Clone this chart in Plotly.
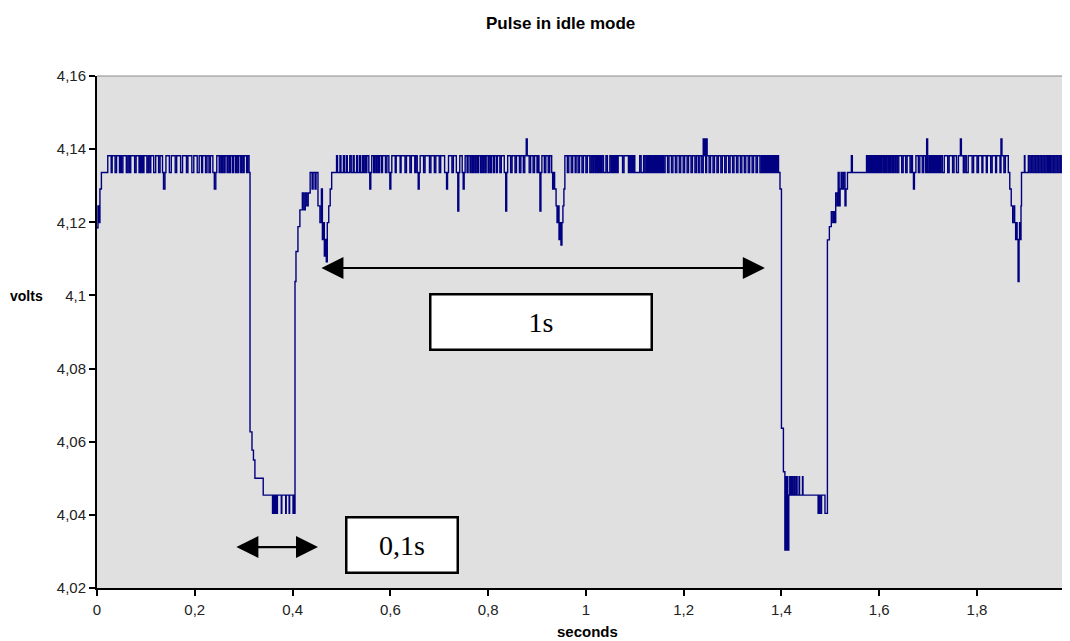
import plotly.graph_objects as go

# ---- signal levels (volts) ----
H = 4.1382   # upper idle level
M = 4.1336   # lower idle level
D = 4.1291   # shallow dip level

# ---- signal change points: time (s) and the value held from that time ----
t_start = [0.000, 0.002, 0.004, 0.006, 0.009]
v_start = [4.1185, 4.1245, 4.1199, 4.1291, M]

t_idle1 = [0.022, 0.029, 0.031, 0.037, 0.040, 0.046, 0.048, 0.050, 0.053, 0.060,
           0.063, 0.066, 0.069, 0.077, 0.080, 0.086, 0.088, 0.090, 0.092, 0.094,
           0.096, 0.102, 0.105, 0.108, 0.110, 0.116, 0.120, 0.126, 0.129, 0.134,
           0.136, 0.139, 0.141, 0.148, 0.152, 0.160, 0.163, 0.171, 0.175, 0.183,
           0.186, 0.194, 0.198, 0.205, 0.209, 0.214, 0.216, 0.222, 0.225, 0.229,
           0.232, 0.237, 0.240, 0.243, 0.245, 0.250, 0.252, 0.255, 0.257, 0.260,
           0.262, 0.266, 0.268, 0.271, 0.273, 0.277, 0.279, 0.283, 0.285, 0.288,
           0.290, 0.294, 0.296, 0.299, 0.301, 0.306, 0.308, 0.311]
v_idle1 = [H, M, H, M, H, M, H, M, H, M,
           H, M, H, M, H, M, H, M, H, M,
           H, M, H, M, H, M, H, M, H, M,
           D, M, H, M, H, M, H, M, H, M,
           H, M, H, M, H, M, H, M, H, M,
           H, M, D, M, H, M, H, M, H, M,
           H, M, H, M, H, M, H, M, H, M,
           H, M, H, M, H, M, H, M]

t_pulse1 = [0.313, 0.317, 0.320, 0.323, 0.340, 0.359, 0.361, 0.362, 0.364, 0.365,
            0.367, 0.368, 0.369, 0.377, 0.378, 0.386, 0.387, 0.393, 0.394, 0.401,
            0.402, 0.403]
v_pulse1 = [4.0627, 4.0577, 4.0550, 4.0500, 4.0454, 4.0404, 4.0454, 4.0404, 4.0454, 4.0404,
            4.0454, 4.0404, 4.0454, 4.0404, 4.0454, 4.0404, 4.0454, 4.0404, 4.0454, 4.0404,
            4.0454, 4.0404]

t_rec1 = [0.405, 0.407, 0.411, 0.415, 0.420, 0.423, 0.426, 0.429, 0.432, 0.436,
          0.440, 0.442, 0.446, 0.448, 0.452, 0.456, 0.459, 0.461, 0.463, 0.465,
          0.467, 0.469, 0.471, 0.474, 0.477, 0.480]
v_rec1 = [4.1038, 4.1120, 4.1188, 4.1234, 4.1280, 4.1234, 4.1280, 4.1245, 4.1280, M,
          4.1291, M, 4.1291, M, 4.1245, 4.1199, 4.1291, 4.1153, 4.1199, 4.1108,
          4.1153, 4.1092, 4.1199, 4.1245, 4.1291, M]

t_idle2a = [0.490, 0.492, 0.497, 0.499, 0.504, 0.506, 0.510, 0.512, 0.517, 0.520,
            0.524, 0.526, 0.531, 0.533, 0.537, 0.539, 0.543, 0.545, 0.548, 0.550,
            0.552, 0.556, 0.558, 0.560, 0.562, 0.566, 0.568, 0.571, 0.573, 0.576,
            0.578, 0.582, 0.584, 0.590, 0.593, 0.597, 0.599, 0.601, 0.603, 0.610,
            0.612, 0.620, 0.622, 0.630, 0.633, 0.640, 0.643, 0.650, 0.652, 0.655,
            0.657, 0.659, 0.661, 0.668, 0.671, 0.680, 0.683, 0.690, 0.693, 0.700,
            0.703, 0.711, 0.715, 0.717, 0.719, 0.726, 0.729, 0.735, 0.738, 0.740,
            0.742, 0.747, 0.749, 0.751, 0.753, 0.757, 0.759, 0.763, 0.765, 0.768,
            0.770, 0.773, 0.775, 0.778, 0.780, 0.784, 0.786, 0.789, 0.791, 0.794,
            0.796, 0.800, 0.802, 0.805, 0.807, 0.811, 0.813, 0.817, 0.819, 0.824,
            0.827, 0.833, 0.836, 0.838, 0.840, 0.846, 0.849, 0.855, 0.858, 0.864,
            0.867, 0.872, 0.875, 0.878, 0.880, 0.884, 0.887, 0.892, 0.895, 0.900,
            0.902, 0.904, 0.906, 0.908, 0.910, 0.915, 0.918, 0.923, 0.926, 0.930,
            0.932, 0.934, 0.936, 0.939, 0.941, 0.943, 0.945, 0.947, 0.949, 0.951,
            0.953, 0.955, 0.957, 0.962, 0.965, 0.970, 0.973, 0.978, 0.980, 0.984]
v_idle2a = [H, M, H, M, H, M, H, M, H, M,
            H, M, H, M, H, M, H, M, H, M,
            H, M, D, M, H, M, H, M, H, M,
            H, M, H, M, H, M, D, M, H, M,
            H, M, H, M, H, M, H, M, H, M,
            D, M, H, M, H, M, H, M, H, M,
            H, M, D, M, H, M, H, M, 4.1231, M,
            H, M, D, M, H, M, H, M, H, M,
            H, M, H, M, H, M, H, M, H, M,
            H, M, H, M, H, M, H, M, H, M,
            H, M, 4.1231, M, H, M, H, M, H, M,
            H, M, H, 4.1428, H, M, H, M, H, M,
            H, M, 4.1231, M, H, M, H, M, H, M,
            D, M, 4.1291, 4.1245, 4.1199, 4.1245, 4.1153, 4.1199, 4.1138, 4.1199,
            4.1245, 4.1291, H, M, H, M, H, M, H, M]

t_idle2b = [0.987, 0.992, 0.995, 1.000, 1.003, 1.008, 1.011, 1.014, 1.016, 1.019,
            1.021, 1.023, 1.025, 1.027, 1.029, 1.031, 1.033, 1.036, 1.041, 1.044,
            1.049, 1.052, 1.054, 1.055, 1.057, 1.058, 1.060, 1.061, 1.063, 1.064,
            1.066, 1.075, 1.078, 1.087, 1.089, 1.090, 1.092, 1.093, 1.095, 1.096,
            1.098, 1.100, 1.110, 1.113, 1.118, 1.121, 1.124, 1.126, 1.127, 1.129,
            1.131, 1.133, 1.134, 1.136, 1.138, 1.140, 1.141, 1.143, 1.145, 1.147,
            1.149, 1.151, 1.153, 1.155, 1.157, 1.159, 1.162, 1.167, 1.170, 1.175,
            1.178, 1.183, 1.186, 1.191, 1.194, 1.199, 1.202, 1.207, 1.210, 1.215,
            1.218, 1.223, 1.226, 1.230, 1.233, 1.237, 1.240, 1.242, 1.243, 1.245,
            1.247, 1.248, 1.252, 1.255, 1.260, 1.263, 1.268, 1.271, 1.276, 1.279,
            1.284, 1.287, 1.292, 1.295, 1.300, 1.303, 1.308, 1.311, 1.316, 1.319,
            1.324, 1.327, 1.332, 1.335, 1.340, 1.343, 1.348, 1.351, 1.356, 1.359,
            1.361, 1.362, 1.364, 1.365, 1.367, 1.368, 1.370, 1.371, 1.373, 1.374,
            1.376, 1.377, 1.379, 1.380, 1.382, 1.383, 1.385, 1.386, 1.388, 1.389,
            1.391, 1.392, 1.394, 1.397]
v_idle2b = [H, M, H, M, H, M, H, M, H, M,
            H, M, H, M, H, M, H, M, H, M,
            H, M, H, M, H, M, H, M, H, M,
            H, M, H, M, H, M, H, M, H, M,
            H, M, H, M, H, M, H, M, H, M,
            H, M, H, M, H, M, H, M, H, M,
            H, M, H, M, H, M, H, M, H, M,
            H, M, H, M, H, M, H, M, H, M,
            H, M, H, M, H, M, 4.1428, H, 4.1428, M,
            4.1428, H, M, H, M, H, M, H, M, H,
            M, H, M, H, M, H, M, H, M, H,
            M, H, M, H, M, H, M, H, M, H,
            M, H, M, H, M, H, M, H, M, H,
            M, H, M, H, M, H, M, H, M, H,
            M, H, M, D]

t_pulse2 = [1.400, 1.404, 1.407, 1.408, 1.410, 1.411, 1.413, 1.415, 1.417, 1.419,
            1.421, 1.423, 1.426, 1.428, 1.431, 1.432, 1.436, 1.437, 1.443, 1.444,
            1.475, 1.476, 1.477, 1.478, 1.479, 1.482, 1.489]
v_pulse2 = [4.0637, 4.0518, 4.0304, 4.0504, 4.0304, 4.0504, 4.0304, 4.0454, 4.0504, 4.0454,
            4.0504, 4.0454, 4.0504, 4.0454, 4.0504, 4.0454, 4.0504, 4.0454, 4.0504, 4.0454,
            4.0404, 4.0454, 4.0404, 4.0454, 4.0404, 4.0454, 4.0404]

t_rec2 = [1.494, 1.498, 1.502, 1.505, 1.507, 1.509, 1.511, 1.514, 1.516, 1.518,
          1.520, 1.522, 1.524, 1.527, 1.530, 1.532, 1.535, 1.543, 1.545]
v_rec2 = [4.1152, 4.1188, 4.1229, 4.1199, 4.1229, 4.1199, 4.1280, 4.1245, M, 4.1245,
          4.1291, M, 4.1291, M, 4.1245, 4.1291, M, H, M]

t_idle3 = [1.574, 1.576, 1.577, 1.579, 1.580, 1.582, 1.583, 1.585, 1.587, 1.589,
           1.590, 1.592, 1.594, 1.596, 1.598, 1.600, 1.602, 1.604, 1.606, 1.609,
           1.611, 1.613, 1.615, 1.618, 1.620, 1.622, 1.624, 1.627, 1.629, 1.632,
           1.634, 1.637, 1.640, 1.646, 1.649, 1.654, 1.657, 1.663, 1.666, 1.668,
           1.670, 1.672, 1.675, 1.680, 1.683, 1.688, 1.691, 1.695, 1.697, 1.699,
           1.702, 1.704, 1.706, 1.708, 1.710, 1.712, 1.714, 1.716, 1.718, 1.720,
           1.722, 1.724, 1.726, 1.729, 1.733, 1.740, 1.743, 1.750, 1.753, 1.758,
           1.762, 1.766, 1.768, 1.772, 1.775, 1.778, 1.782, 1.790, 1.793, 1.800,
           1.803, 1.810, 1.812, 1.819, 1.821, 1.828, 1.831, 1.838, 1.840, 1.847,
           1.849, 1.851, 1.855, 1.858, 1.864, 1.867, 1.870, 1.873, 1.876, 1.877,
           1.879, 1.880, 1.882, 1.884, 1.886, 1.887, 1.889, 1.890, 1.891, 1.897,
           1.898, 1.905, 1.908, 1.911, 1.914, 1.917, 1.920, 1.923, 1.926, 1.929,
           1.932, 1.935, 1.938, 1.941, 1.944, 1.946, 1.948, 1.950, 1.953, 1.956,
           1.959, 1.962, 1.965, 1.968, 1.971, 1.974, 1.977, 1.980, 1.983, 1.986,
           1.989, 1.992, 1.995]
v_idle3 = [H, M, H, M, H, M, H, M, H, M,
           H, M, H, M, H, M, H, M, H, M,
           H, M, H, M, H, M, H, M, H, M,
           H, M, H, M, H, M, H, M, H, M,
           D, M, H, M, H, M, H, M, 4.1428, M,
           H, M, H, M, H, M, H, M, H, M,
           H, M, H, M, H, M, H, M, H, M,
           H, 4.1428, H, M, H, M, H, M, H, M,
           H, M, H, M, H, M, H, M, H, M,
           4.1428, H, M, H, M, 4.1291, 4.1245, 4.1199, 4.1245, 4.1199,
           4.1153, 4.1199, 4.1153, 4.1038, 4.1153, 4.1199, 4.1153, 4.1245, M, H,
           M, H, M, H, M, H, M, H, M, H,
           M, H, M, H, M, H, M, H, M, H,
           M, H, M, H, M, H, M, H, M, H,
           M, H, M]

# ---- axes ----
x_ticks = [0, 0.2, 0.4, 0.6, 0.8, 1.0, 1.2, 1.4, 1.6, 1.8]
x_tick_labels = ["0", "0,2", "0,4", "0,6", "0,8", "1", "1,2", "1,4", "1,6", "1,8"]
y_ticks = [4.02, 4.04, 4.06, 4.08, 4.10, 4.12, 4.14, 4.16]
y_tick_labels = ["4,02", "4,04", "4,06", "4,08", "4,1", "4,12", "4,14", "4,16"]

# ---- annotation anchors (data units) ----
arrow_1s = (0.456, 1.366, 4.1075)     # x from, x to, y
arrow_01s = (0.282, 0.452, 4.0312)
box_1s = (0.908, 4.0927)
box_01s = (0.624, 4.0318)

seg_t = [t_start, t_idle1, t_pulse1, t_rec1, t_idle2a, t_idle2b, t_pulse2, t_rec2, t_idle3]
seg_v = [v_start, v_idle1, v_pulse1, v_rec1, v_idle2a, v_idle2b, v_pulse2, v_rec2, v_idle3]
seconds, volts = [], []
for ts, vs in zip(seg_t, seg_v):
    assert len(ts) == len(vs), (len(ts), len(vs), ts[0])
    seconds += ts
    volts += vs

fig = go.Figure()
fig.add_trace(go.Scatter(x=seconds, y=volts, mode="lines",
                         line=dict(color="#000080", width=1.4, shape="hv"),
                         hoverinfo="skip", showlegend=False))

sans = "Liberation Sans, Arial, sans-serif"
serif = "Liberation Serif, Times New Roman, serif"

annotations = []
for (x0, x1, y) in (arrow_1s, arrow_01s):
    annotations.append(dict(x=x1, y=y, ax=x0, ay=y, xref="x", yref="y", axref="x", ayref="y",
                            text="", showarrow=True, arrowhead=2, startarrowhead=2,
                            arrowside="end+start", arrowsize=2, startarrowsize=2,
                            arrowwidth=2.2, arrowcolor="black", standoff=0, startstandoff=0))
annotations.append(dict(x=box_1s[0], y=box_1s[1], xref="x", yref="y", text="1s", showarrow=False,
                        font=dict(family=serif, size=28, color="black"), bgcolor="white",
                        bordercolor="black", borderwidth=2.5, borderpad=0, width=219, height=53))
annotations.append(dict(x=box_01s[0], y=box_01s[1], xref="x", yref="y", text="0,1s", showarrow=False,
                        font=dict(family=serif, size=28, color="black"), bgcolor="white",
                        bordercolor="black", borderwidth=2.5, borderpad=0, width=109, height=53))
annotations.append(dict(x=(26 - 97) / 973, y=(588 - 296) / 512, xref="paper", yref="paper",
                        text="<b>volts</b>", showarrow=False, xanchor="center", yanchor="middle",
                        font=dict(family=sans, size=14, color="black")))
annotations.append(dict(x=(587 - 97) / 973, y=(588 - 631) / 512, xref="paper", yref="paper",
                        text="<b>seconds</b>", showarrow=False, xanchor="center", yanchor="middle",
                        font=dict(family=sans, size=15, color="black")))
annotations.append(dict(x=(1071 - 97) / 973, y=(588 - 609) / 512, xref="paper", yref="paper",
                        text="2", showarrow=False, xanchor="center", yanchor="middle",
                        font=dict(family=sans, size=15, color="#222")))
annotations.append(dict(x=(560 - 97) / 973, y=(588 - 23) / 512, xref="paper", yref="paper",
                        text="<b>Pulse in idle mode</b>", showarrow=False,
                        xanchor="center", yanchor="middle",
                        font=dict(family=sans, size=17, color="black")))

# the page body adds an 8px offset, so the figure is sized to end at the window edge
fig.update_layout(
    width=1062, height=633,
    margin=dict(l=89, r=0, t=68, b=53, autoexpand=False),
    paper_bgcolor="white", plot_bgcolor="#e0e0e0",
    annotations=annotations,
    shapes=[dict(type="line", xref="paper", yref="paper", x0=0, x1=1, y0=1, y1=1,
                 line=dict(color="#8a8a8a", width=1))],
    showlegend=False,
)
fig.update_xaxes(range=[0, 1.9902], tickmode="array", tickvals=x_ticks, ticktext=x_tick_labels,
                 showgrid=False, zeroline=False, showline=True, linecolor="black", linewidth=2,
                 ticks="outside", ticklen=6, tickwidth=1.5, tickcolor="black", automargin=False,
                 tickfont=dict(family=sans, size=15, color="#222"), ticklabelstandoff=1)
fig.update_yaxes(range=[4.02, 4.16], tickmode="array", tickvals=y_ticks, ticktext=y_tick_labels,
                 showgrid=False, zeroline=False, showline=True, linecolor="black", linewidth=2,
                 ticks="outside", ticklen=6, tickwidth=1.5, tickcolor="black", automargin=False,
                 tickfont=dict(family=sans, size=15, color="#222"))

fig.write_html("out.html")
